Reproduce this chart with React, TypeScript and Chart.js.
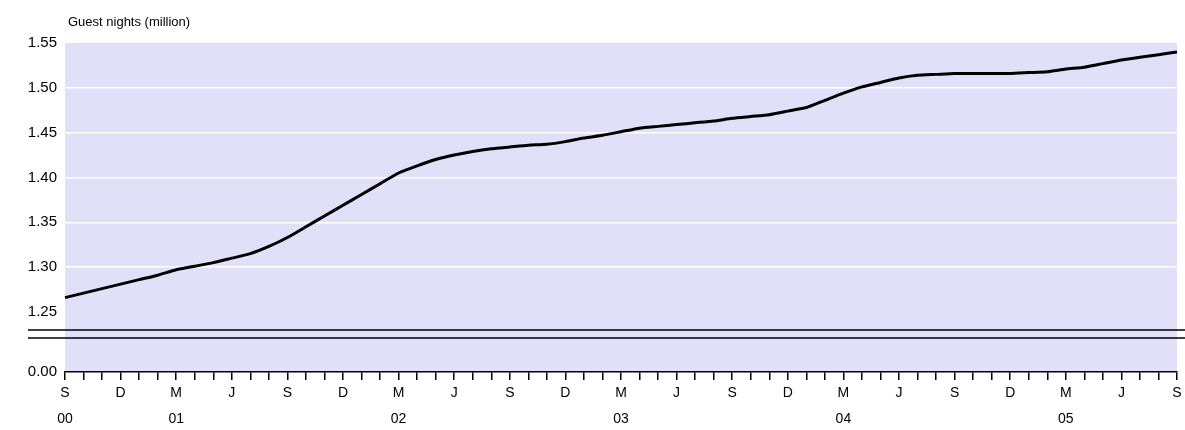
import Chart from "chart.js/auto";
import { useEffect, useRef } from "react";

const monthLetters = ["J", "F", "M", "A", "M", "J", "J", "A", "S", "O", "N", "D"];
// Sep 2000 .. Sep 2005, monthly
const guestNights = [
  1.266, 1.271, 1.276,
  1.281, 1.286, 1.291, 1.297, 1.301, 1.305, 1.310, 1.315, 1.323, 1.333, 1.345, 1.357,
  1.369, 1.381, 1.393, 1.405, 1.413, 1.420, 1.425, 1.429, 1.432, 1.434, 1.436, 1.437,
  1.440, 1.444, 1.447, 1.451, 1.455, 1.457, 1.459, 1.461, 1.463, 1.466, 1.468, 1.470,
  1.474, 1.478, 1.486, 1.494, 1.501, 1.506, 1.511, 1.514, 1.515, 1.516, 1.516, 1.516,
  1.516, 1.517, 1.518, 1.521, 1.523, 1.527, 1.531, 1.534, 1.537, 1.540,
];
const yTicks = [1.25, 1.3, 1.35, 1.4, 1.45, 1.5, 1.55];
const yBottom = 1.183;

const labels = guestNights.map((_, i) => {
  const m = (8 + i) % 12;
  const yr = 2000 + Math.floor((8 + i) / 12);
  return { m, yr, i };
});

export default function App() {
  const ref = useRef<HTMLCanvasElement | null>(null);

  useEffect(() => {
    document.body.style.margin = "0";
    if (!ref.current) return;
    const family = "'Liberation Sans', Arial, sans-serif";

    const chart = new Chart(ref.current, {
      type: "line",
      data: {
        labels: labels.map((l) => l.i.toString()),
        datasets: [
          {
            data: guestNights,
            borderColor: "#000",
            borderWidth: 3,
            pointRadius: 0,
            tension: 0.2,
          },
        ],
      },
      options: {
        responsive: false,
        animation: false,
        layout: { padding: { left: 8, right: 8, top: 43, bottom: 0 } },
        plugins: { legend: { display: false }, tooltip: { enabled: false } },
        scales: {
          x: {
            offset: false,
            border: { color: "#000", width: 1.5 },
            grid: { drawOnChartArea: false, color: "#000", tickLength: 8, lineWidth: 1.5 },
            afterFit: (s: any) => { s.height = 58; },
            ticks: {
              autoSkip: false,
              maxRotation: 0,
              color: "#000",
              font: { family, size: 14, lineHeight: 1.85 },
              padding: 0,
              callback: (_v: any, idx: number) => {
                const l = labels[idx];
                if (!l || l.m % 3 !== 2) return "";
                const showYear = idx === 0 || l.m === 2;
                return [monthLetters[l.m], showYear ? String(l.yr % 100).padStart(2, "0") : ""];
              },
            },
          },
          y: {
            min: yBottom,
            max: 1.55,
            border: { display: false },
            afterFit: (s: any) => { s.width = 57; },
            afterBuildTicks: (s: any) => {
              s.ticks = [yBottom, ...yTicks].map((v) => ({ value: v }));
            },
            grid: {
              color: (c: any) => (c.tick && c.tick.value > 1.26 && c.tick.value < 1.54 ? "#fff" : "rgba(0,0,0,0)"),
              lineWidth: 1.5,
              drawTicks: false,
            },
            ticks: {
              color: "#000",
              font: { family, size: 15 },
              padding: 8,
              callback: (v: any) => (v < 1.2 ? "0.00" : Number(v).toFixed(2)),
            },
          },
        },
      },
      plugins: [
        {
          id: "decor",
          beforeDraw: (c: any) => {
            const { ctx, chartArea: a } = c;
            ctx.save();
            ctx.fillStyle = "#e0e0f8";
            ctx.fillRect(a.left, a.top, a.right - a.left, a.bottom - a.top);
            ctx.restore();
          },
          afterDraw: (c: any) => {
            const { ctx, chartArea: a } = c;
            ctx.save();
            ctx.fillStyle = "#000";
            ctx.font = "13px " + family;
            ctx.textBaseline = "alphabetic";
            ctx.fillText("Guest nights (million)", 68, 26);
            const y1 = a.bottom - 42;
            const y2 = a.bottom - 34;
            ctx.fillStyle = "#e0e0f8";
            ctx.fillRect(a.left, y1, a.right - a.left, y2 - y1);
            ctx.strokeStyle = "#000";
            ctx.lineWidth = 1.5;
            [y1, y2].forEach((y) => {
              ctx.beginPath();
              ctx.moveTo(28, y);
              ctx.lineTo(c.width, y);
              ctx.stroke();
            });
            ctx.restore();
          },
        },
      ],
    });
    return () => chart.destroy();
  }, []);

  return <canvas ref={ref} width={1185} height={430} />;
}
